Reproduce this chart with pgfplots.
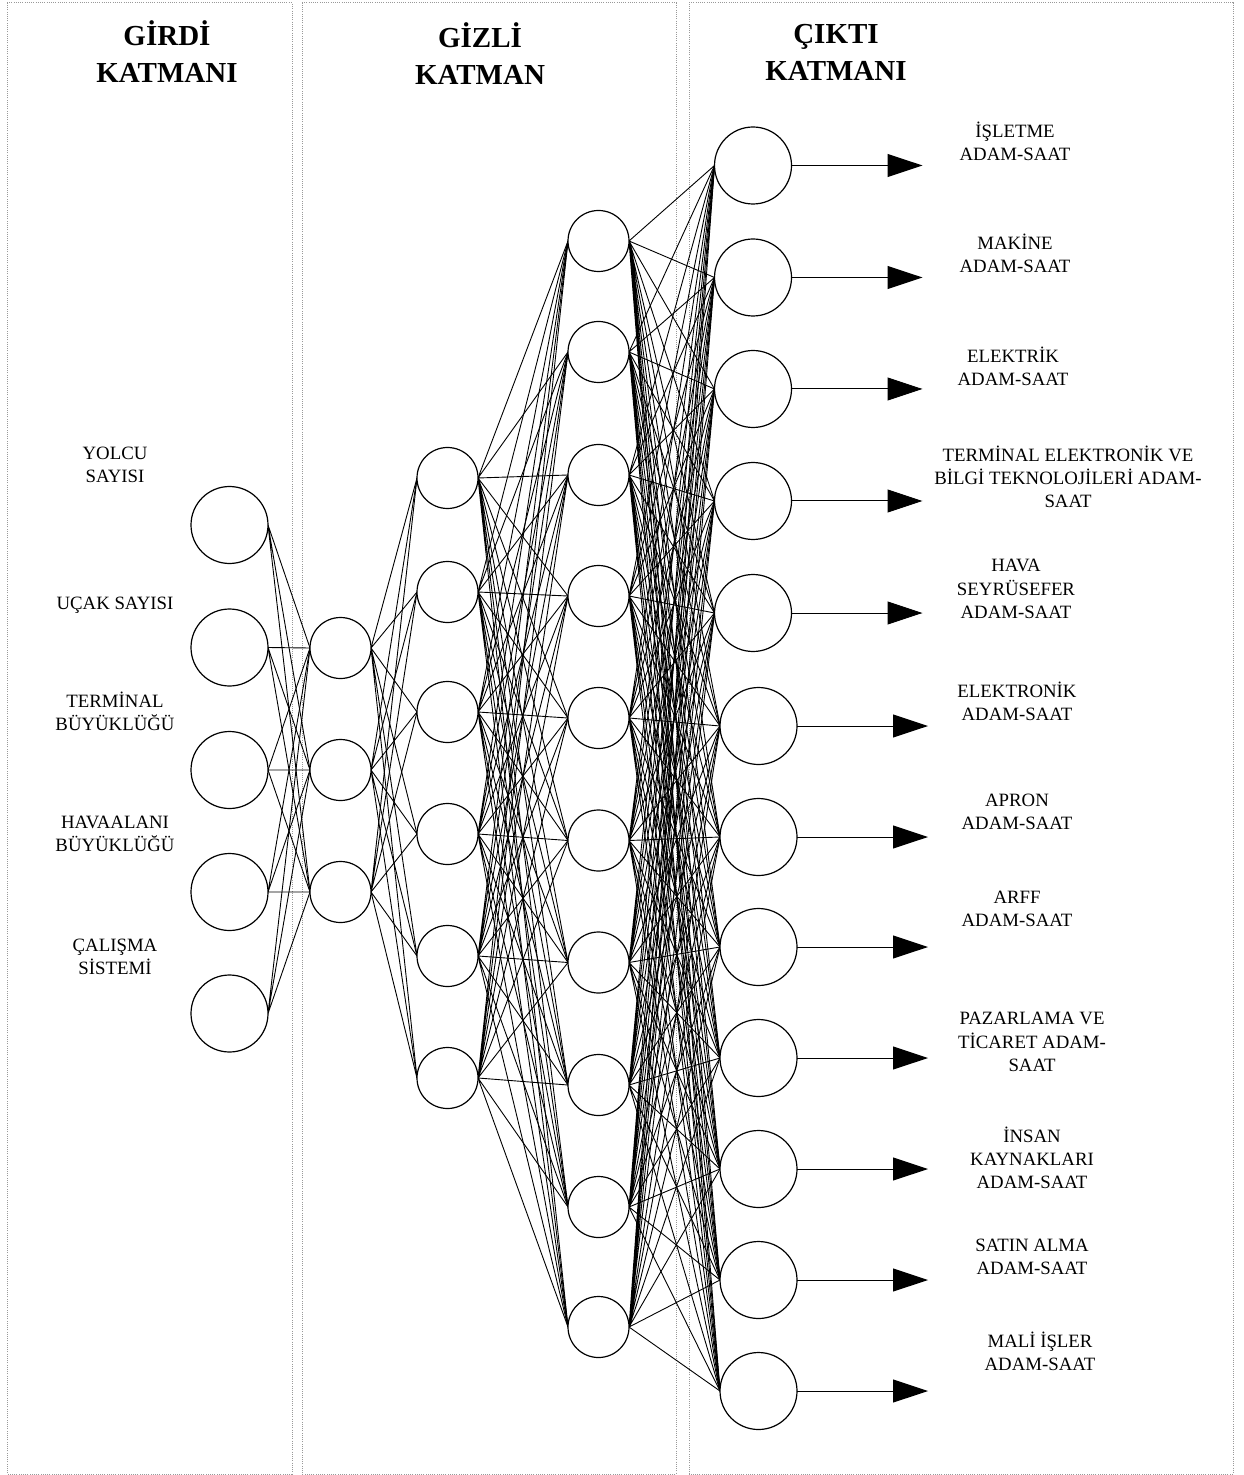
\documentclass[border=0pt]{standalone}
\usepackage{pgfplots}
\pgfplotsset{compat=1.18}
\usepackage{pgfplotstable}
\usetikzlibrary{arrows.meta}
\usepackage{fontspec}
\setmainfont{Liberation Serif}

% node centres, in pixels of the reference (y grows downwards)
\pgfplotstableread{
x y
229.5 525
229.5 647.5
229.5 770
229.5 892
229.5 1013.5
}\girdi
\pgfplotstableread{
x y
340.5 648
340.5 770
340.5 892
}\gizlia
\pgfplotstableread{
x y
447.5 478
447.5 592
447.5 712
447.5 834
447.5 956
447.5 1078
}\gizlib
\pgfplotstableread{
x y
598.5 241
598.5 352
598.5 475
598.5 596
598.5 718
598.5 840.5
598.5 962.5
598.5 1085
598.5 1207
598.5 1327
}\gizlic
\pgfplotstableread{
x y
753 165.5
753 277.5
753 389
753 501
753 613
758.5 726
758.5 837
758.5 947
758.5 1058
758.5 1169
758.5 1280
758.5 1391
}\cikti

% left-edge points of each layer (edges end there)
\def\Hal{310/648,310/770,310/892}
\def\Hbl{417/478,417/592,417/712,417/834,417/956,417/1078}
\def\Hcl{568/241,568/352,568/475,568/596,568/718,568/840.5,568/962.5,568/1085,568/1207,568/1327}
\def\Ol{714.5/165.5,714.5/277.5,714.5/389,714.5/501,714.5/613,720/726,720/837,720/947,720/1058,720/1169,720/1280,720/1391}

\tikzset{
  edge/.style={black, line width=0.45pt, mark=none},
  panel/.style={gray!80, line width=0.5pt, dash pattern=on 0.5pt off 0.6pt, mark=none},
  lbl/.style={font=\fontsize{9.4}{11.6}\selectfont, align=center, inner sep=0pt},
  ttl/.style={font=\fontsize{14.5}{18.5}\selectfont\bfseries, align=center, inner sep=0pt},
}

\newcommand{\fan}[3]{%
  \gdef\pts{}%
  \foreach \xb/\yb in #3 {\xdef\pts{\pts (#1,#2) (\xb,\yb)}}%
  \edef\temp{\noexpand\addplot[edge] coordinates {\pts};}\temp}

\begin{document}
\begin{tikzpicture}
\begin{axis}[
  name=net,
  width=621.5pt, height=737.5pt, scale only axis,
  xmin=0, xmax=1243, ymin=0, ymax=1475, y dir=reverse,
  hide axis, clip=false,
]
% panels
\addplot[panel] coordinates {(7,3) (292,3) (292,1474) (7,1474) (7,3)};
\addplot[panel] coordinates {(302,3) (676,3) (676,1474) (302,1474) (302,3)};
\addplot[panel] coordinates {(689,3) (1233,3) (1233,1474) (689,1474) (689,3)};

% connections
\foreach \ya in {525,647.5,770,892,1013.5} {\fan{268}{\ya}{\Hal}}
\foreach \ya in {648,770,892} {\fan{371}{\ya}{\Hbl}}
\foreach \ya in {478,592,712,834,956,1078} {\fan{478}{\ya}{\Hcl}}
\foreach \ya in {241,352,475,596,718,840.5,962.5,1085,1207,1327} {\fan{629}{\ya}{\Ol}}

% output arrows
\foreach \xa/\ya in {791.5/165.5,791.5/277.5,791.5/389,791.5/501,791.5/613,797/726,797/837,797/947,797/1058,797/1169,797/1280,797/1391} {
  \pgfmathsetmacro{\xe}{\xa+131}
  \edef\temp{\noexpand\addplot[black, line width=0.5pt, mark=none, -{Triangle[length=17.5pt, width=11.5pt]}] coordinates {(\xa,\ya) (\xe,\ya)};}\temp
}

% neurons
\addplot[only marks, mark=*, mark size=19.25pt, mark options={fill=white, draw=black, line width=0.6pt}] table {\girdi};
\addplot[only marks, mark=*, mark size=15.25pt, mark options={fill=white, draw=black, line width=0.6pt}] table {\gizlia};
\addplot[only marks, mark=*, mark size=15.25pt, mark options={fill=white, draw=black, line width=0.6pt}] table {\gizlib};
\addplot[only marks, mark=*, mark size=15.25pt, mark options={fill=white, draw=black, line width=0.6pt}] table {\gizlic};
\addplot[only marks, mark=*, mark size=19.25pt, mark options={fill=white, draw=black, line width=0.6pt}] table {\cikti};

% titles
\node[ttl] at (axis cs:167,52) {GİRDİ\\KATMANI};
\node[ttl] at (axis cs:480,54) {GİZLİ\\KATMAN};
\node[ttl] at (axis cs:836,52) {ÇIKTI\\KATMANI};

% input labels
\node[lbl] at (axis cs:115,465) {YOLCU\\SAYISI};
\node[lbl] at (axis cs:115,605) {UÇAK SAYISI};
\node[lbl] at (axis cs:115,711.5) {TERMİNAL\\BÜYÜKLÜĞÜ};
\node[lbl] at (axis cs:115,833.5) {HAVAALANI\\BÜYÜKLÜĞÜ};
\node[lbl] at (axis cs:115,956.5) {ÇALIŞMA\\SİSTEMİ};

% output labels
\node[lbl] at (axis cs:1015,141.5) {İŞLETME\\ADAM-SAAT};
\node[lbl] at (axis cs:1015,253.5) {MAKİNE\\ADAM-SAAT};
\node[lbl] at (axis cs:1013,366) {ELEKTRİK\\ADAM-SAAT};
\node[lbl] at (axis cs:1068,477) {TERMİNAL ELEKTRONİK VE\\BİLGİ TEKNOLOJİLERİ ADAM-\\SAAT};
\node[lbl] at (axis cs:1016,589) {HAVA\\SEYRÜSEFER\\ADAM-SAAT};
\node[lbl] at (axis cs:1017,701) {ELEKTRONİK\\ADAM-SAAT};
\node[lbl] at (axis cs:1017,812) {APRON\\ADAM-SAAT};
\node[lbl] at (axis cs:1017,908.5) {ARFF\\ADAM-SAAT};
\node[lbl] at (axis cs:1032,1042) {PAZARLAMA VE\\TİCARET ADAM-\\SAAT};
\node[lbl] at (axis cs:1032,1158) {İNSAN\\KAYNAKLARI\\ADAM-SAAT};
\node[lbl] at (axis cs:1032,1257) {SATIN ALMA\\ADAM-SAAT};
\node[lbl] at (axis cs:1040,1351.5) {MALİ İŞLER\\ADAM-SAAT};
\end{axis}
\pgfresetboundingbox
\useasboundingbox (net.south west) rectangle (net.north east);
\end{tikzpicture}
\end{document}
